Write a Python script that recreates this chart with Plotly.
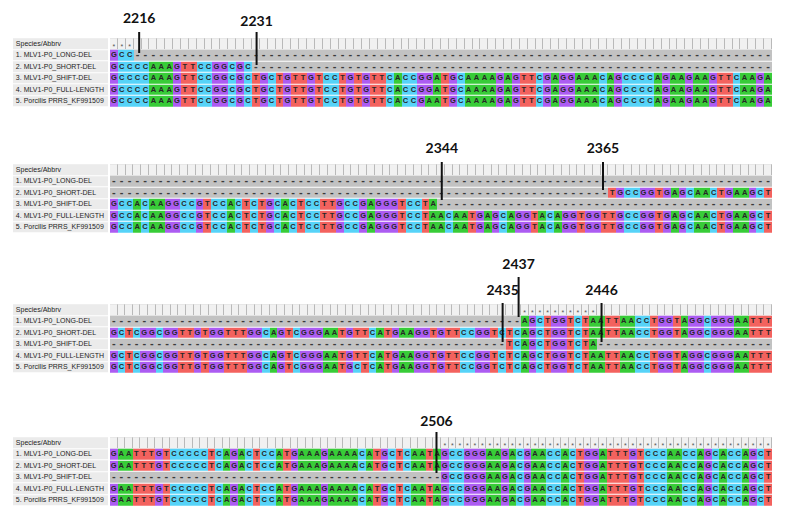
import plotly.graph_objects as go

# page is 790x519; the browser adds an 8px body margin around the plot div
PAGE_MARGIN = 8
FIG_W, FIG_H = 790 - 2 * PAGE_MARGIN, 519 - 2 * PAGE_MARGIN

# ---------------- data ----------------
row_names = ["1. MLV1-P0_LONG-DEL", "2. MLV1-P0_SHORT-DEL", "3. MLV1-P0_SHIFT-DEL",
             "4. MLV1-P0_FULL-LENGTH", "5. Porcilis PRRS_KF991509"]
header_name = "Species/Abbrv"

block1 = [
    "GCC" + "-" * 81,
    "GCCCCAAAGTTCCGGCGC" + "-" * 66,
    "GCCCCAAAGTTCCGGCGCTGCTGTTGTCCTGTGTTCACCGGATGCAAAAGAGTTCGAGGAAACAGCCCCAGAAGAAGTTCAAGA",
    "GCCCCAAAGTTCCGGCGCTGCTGTTGTCCTGTGTTCACCGGATGCAAAAGAGTTCGAGGAAACAGCCCCAGAAGAAGTTCAAGA",
    "GCCCCAAAGTTCCGGCGCTGCTGTTGTCCTGTGTTCACCGAATGCAAAAGAGTTCGAGGAAACAGCCCCAGAAGAAGTTCAAGA",
]
block2 = [
    "-" * 85,
    "-" * 64 + "TGCCGGTGAGCAACTGAAGCT",
    "GCCACAAGGCCGTCCACTCTGCACTCCTTGCCGAGGGTCCTA" + "-" * 43,
    "GCCACAAGGCCGTCCACTCTGCACTCCTTGCCGAGGGTCCTAACAATGAGCAGGTACAGGTGGTTGCCGGTGAGCAACTGAAGCT",
    "GCCACAAGGCCGTCCACTCTGCACTCCTTGCCGAGGGTCCTAACAATGAGCAGGTACAGGTGGTTGCCGGTGAGCAACTGAAGCT",
]
block3 = [
    "-" * 54 + "AGCTGGTCTAATTAACCTGGTAGGCGGGAATTT",
    "GCTCGGCGGTTGTGGTTTGGCAGTCGGGAATGTTCATGAAGGTGTTCCGGTCTCAGCTGGTCTAATTAACCTGGTAGGCGGGAATTT",
    "-" * 52 + "TCAGCTGGTCTA" + "-" * 23,
    "GCTCGGCGGTTGTGGTTTGGCAGTCGGGAATGTTCATGAAGGTGTTCCGGTCTCAGCTGGTCTAATTAACCTGGTAGGCGGGAATTT",
    "GCTCGGCGGTTGTGGTTTGGCAGTCGGGAATGCTCATGAAGGTGTTCCGGTCTCAGCTGGTCTAATTAACCTGGTAGGCGGGAATTT",
]
block4 = [
    "GAATTTGTCCCCCTCAGACTCCATGAAAGAAAACATGCTCAATAGCCGGGAAGACGAACCACTGGATTTGTCCCAACCAGCACCAGCT",
    "GAATTTGTCCCCCTCAGACTCCATGAAAGAAAACATGCTCAATAGCCGGGAAGACGAACCACTGGATTTGTCCCAACCAGCACCAGCT",
    "-" * 44 + "GCCGGGAAGACGAACCACTGGATTTGTCCCAACCAGCACCAGCT",
    "GAATTTGTCCCCCTCAGACTCCATGAAAGAAAACATGCTCAATAGCCGGGAAGACGAACCACTGGATTTGTCCCAACCAGCACCAGCT",
    "GAATTTGTCCCCCTCAGACTCCATGAAAGAAAACATGCTCAATAGCCGGGAAGACGAACCACTGGATTTGTCCCAACCAGCACCAGCT",
]
blocks = [block1, block2, block3, block4]

# position annotations: block index, label, column position, line top/bottom (row units), label row
marker_block = [0, 0, 1, 1, 2, 2, 2, 3]
marker_label = ["2216", "2231", "2344", "2365", "2437", "2435", "2446", "2506"]
marker_col = [4.2, 19.1, 43.1, 63.8, 54.2, 52.1, 65.1, 43.9]
marker_top = [-1.04, -1.04, -0.70, -0.70, -2.87, -0.61, -0.61, -0.96]
marker_bot = [0.78, 1.83, 2.61, 1.74, 0.61, 2.78, 2.78, 2.61]
marker_text_y = [-2.09, -1.91, -1.74, -1.74, -3.91, -1.57, -1.57, -1.74]

# ---------------- style / layout (page pixel positions) ----------------
SEQ_X0, SEQ_X1 = 110, 772
LAB_X0, LAB_X1 = 13, 108
ROW_PX = 11.5
header_center_px = [44, 170, 310, 443]
top_extra_rows = [2.6, 3, 4.5, 2.5]

code = {"-": 0, "A": 1, "C": 2, "G": 3, "T": 4}
c_gap, c_A, c_C, c_G, c_T = "#C2C2C2", "#38CC38", "#56D3F8", "#AC5CF2", "#F3625E"
colorscale = [[0, c_gap], [0.2, c_gap], [0.2, c_A], [0.4, c_A], [0.4, c_C], [0.6, c_C],
              [0.6, c_G], [0.8, c_G], [0.8, c_T], [1, c_T]]
SEQ_FONT = "Liberation Sans, Arial, sans-serif"


def xdom(px):
    return min(1, max(0, (px - PAGE_MARGIN) / FIG_W))


def ydom(py):
    return min(1, max(0, 1 - (py - PAGE_MARGIN) / FIG_H))


fig = go.Figure()
layout = {}


def sfx(n):
    return "" if n == 1 else str(n)


for bi, rows in enumerate(blocks):
    n = len(rows[0])
    xs_n, xl_n, y_n = 2 * bi + 1, 2 * bi + 2, bi + 1
    xs, xl, ya = "x" + sfx(xs_n), "x" + sfx(xl_n), "y" + sfx(y_n)
    hc = header_center_px[bi]
    E = top_extra_rows[bi]
    top_px = hc - (0.5 + E) * ROW_PX
    bot_px = hc + 5.5 * ROW_PX
    layout["xaxis" + sfx(xs_n)] = dict(domain=[xdom(SEQ_X0), xdom(SEQ_X1)], range=[0.5, n + 0.5],
                                       visible=False, anchor=ya, fixedrange=True)
    layout["xaxis" + sfx(xl_n)] = dict(domain=[xdom(LAB_X0), xdom(LAB_X1)], range=[0, 1],
                                       visible=False, anchor=ya, fixedrange=True)
    layout["yaxis" + sfx(y_n)] = dict(domain=[ydom(bot_px), ydom(top_px)],
                                      range=[5.5, -0.5 - E], visible=False, anchor=xs, fixedrange=True)

    # label column
    fig.add_trace(go.Heatmap(z=[[1]] * 6, x0=0.5, dx=1, y0=0, dy=1, xaxis=xl, yaxis=ya, ygap=1,
                             colorscale=[[0, "#EBEBEB"], [1, "#EBEBEB"]], showscale=False,
                             hoverinfo="skip"))
    fig.add_trace(go.Scatter(x=[0.03] * 6, y=list(range(6)), text=[header_name] + row_names,
                             mode="text", textposition="middle right", xaxis=xl, yaxis=ya,
                             textfont=dict(family=SEQ_FONT, size=7, color="#1E1E1E"),
                             hoverinfo="skip", cliponaxis=False))

    # header ruler
    fig.add_trace(go.Heatmap(z=[[0] * n], x0=1, dx=1, y0=0, dy=1, xaxis=xs, yaxis=ya, ygap=1,
                             colorscale=[[0, "#B9B9B9"], [1, "#B9B9B9"]], showscale=False,
                             hoverinfo="skip"))
    fig.add_trace(go.Heatmap(z=[[0] * n], x0=1, dx=1, y0=0, dy=1, xaxis=xs, yaxis=ya, ygap=1, xgap=1,
                             colorscale=[[0, "#F1F1F1"], [1, "#F1F1F1"]], showscale=False,
                             hoverinfo="skip"))

    # nucleotide cells
    z = [[code[ch] for ch in r] for r in rows]
    fig.add_trace(go.Heatmap(z=z, x0=1, dx=1, y0=1, dy=1, xaxis=xs, yaxis=ya, ygap=1,
                             colorscale=colorscale, zmin=-0.5, zmax=4.5, showscale=False,
                             hoverinfo="skip"))

    lx, ly, lt, gx, gy = [], [], [], [], []
    for ri, r in enumerate(rows):
        for ci, ch in enumerate(r):
            if ch == "-":
                gx.append(ci + 1)
                gy.append(ri + 1)
            else:
                lx.append(ci + 1)
                ly.append(ri + 1)
                lt.append(ch)
    fig.add_trace(go.Scatter(x=lx, y=ly, text=lt, mode="text", xaxis=xs, yaxis=ya,
                             textfont=dict(family=SEQ_FONT, size=7.5, color="#262626", weight="bold"),
                             hoverinfo="skip", cliponaxis=False))
    if gx:
        fig.add_trace(go.Scatter(x=gx, y=gy, text=["-"] * len(gx), mode="text", xaxis=xs, yaxis=ya,
                                 textfont=dict(family=SEQ_FONT, size=11, color="#3A3A3A", weight="bold"),
                                 hoverinfo="skip", cliponaxis=False))

    # conserved-site asterisks
    ax_cols = [ci + 1 for ci in range(n)
               if rows[0][ci] != "-" and all(r[ci] == rows[0][ci] for r in rows)]
    if ax_cols:
        fig.add_trace(go.Scatter(x=ax_cols, y=[0.25] * len(ax_cols), text=["*"] * len(ax_cols),
                                 mode="text", xaxis=xs, yaxis=ya,
                                 textfont=dict(family=SEQ_FONT, size=7, color="#555555"),
                                 hoverinfo="skip", cliponaxis=False))

# position markers
for b, lab, xc, yt, yb, ty in zip(marker_block, marker_label, marker_col, marker_top, marker_bot,
                                  marker_text_y):
    xs, ya = "x" + sfx(2 * b + 1), "y" + sfx(b + 1)
    fig.add_trace(go.Scatter(x=[xc, xc], y=[yt, yb], mode="lines", xaxis=xs, yaxis=ya,
                             line=dict(color="#111111", width=2), hoverinfo="skip",
                             cliponaxis=False))
    fig.add_trace(go.Scatter(x=[xc], y=[ty], text=[lab], mode="text", xaxis=xs, yaxis=ya,
                             textfont=dict(family="Lato, Open Sans, sans-serif", size=14,
                                           color="#111111", weight="bold"),
                             hoverinfo="skip", cliponaxis=False))

fig.update_layout(width=FIG_W, height=FIG_H, margin=dict(l=0, r=0, t=0, b=0),
                  paper_bgcolor="white", plot_bgcolor="white", showlegend=False, **layout)

fig.write_html("out.html")
